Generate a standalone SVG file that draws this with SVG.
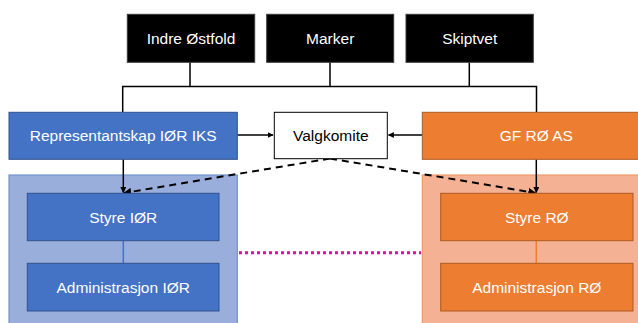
<svg xmlns="http://www.w3.org/2000/svg" width="638" height="323" viewBox="0 0 638 323">
<style>
text{font-family:"Liberation Sans",Arial,sans-serif;font-size:15.5px;text-anchor:middle;dominant-baseline:central}
.w{fill:#ffffff}
.k{fill:#000000}
.top{fill:#000000;stroke:#3a3a3a;stroke-width:1}
.blue{fill:#4472C4;stroke:#2F528F;stroke-width:1}
.orange{fill:#ED7D31;stroke:#AE5A21;stroke-width:1}
.ln{fill:none;stroke:#000000;stroke-width:1.5}
.dash{fill:none;stroke:#000000;stroke-width:2;stroke-dasharray:7,5}
</style>
<defs>
<marker id="ah" viewBox="0 0 10 10" refX="9" refY="5" markerWidth="6" markerHeight="6" orient="auto" markerUnits="userSpaceOnUse">
<path d="M0,0 L10,5 L0,10 z" fill="#000000"/>
</marker>
<marker id="ah2" viewBox="0 0 10 10" refX="9" refY="5" markerWidth="8" markerHeight="8" orient="auto" markerUnits="userSpaceOnUse">
<path d="M0,0 L10,5 L0,10 z" fill="#000000"/>
</marker>
</defs>
<rect width="638" height="323" fill="#ffffff"/>
<g id="container-ior"><rect x="9" y="175" width="228.3" height="150" fill="#9AAEDC" stroke="#7293CB" stroke-width="1.2"/></g>
<g id="container-ro"><rect x="422.3" y="175" width="220" height="150" fill="#F5B194" stroke="#F09A6A" stroke-width="1.2"/></g>
<g id="connectors">
<path class="ln" d="M190,62.3 V86.5 M330,62.3 V86.5 M469.3,62.3 V86.5 M122.7,112.3 V86.5 H536.5 V112.3"/>
<path class="ln" d="M237.3,135 H273" marker-end="url(#ah)"/>
<path class="ln" d="M422.3,135 H388.5" marker-end="url(#ah)"/>
<path class="ln" d="M123.3,159.3 V192.5" marker-end="url(#ah)"/>
<path class="ln" d="M536.3,159.3 V192.5" marker-end="url(#ah)"/>
<path class="dash" d="M330,158.5 L124,193" marker-end="url(#ah2)"/>
<path class="dash" d="M330,158.5 L535.5,193" marker-end="url(#ah2)"/>
<line x1="123.3" y1="240.7" x2="123.3" y2="263.3" stroke="#4472C4" stroke-width="1.5"/>
<line x1="536.3" y1="240.7" x2="536.3" y2="263.3" stroke="#ED7D31" stroke-width="1.5"/>
<line x1="239" y1="252.7" x2="421" y2="252.7" stroke="#DD10A0" stroke-width="3" stroke-dasharray="3,3"/>
</g>
<g id="indre-ostfold"><rect class="top" x="127.3" y="14.3" width="127.4" height="48"/><text class="w" x="191" y="38.3">Indre Østfold</text></g>
<g id="marker"><rect class="top" x="266.7" y="14.3" width="127" height="48"/><text class="w" x="330.2" y="38.3">Marker</text></g>
<g id="skiptvet"><rect class="top" x="406" y="14.3" width="127.3" height="48"/><text class="w" x="469.7" y="38.3">Skiptvet</text></g>
<g id="representantskap"><rect class="blue" x="9" y="112.3" width="228.3" height="47"/><text class="w" x="123.2" y="135.8">Representantskap IØR IKS</text></g>
<g id="valgkomite"><rect x="274.3" y="112.3" width="113" height="46.4" fill="#ffffff" stroke="#000000" stroke-width="1"/><text class="k" x="330.8" y="135.5">Valgkomite</text></g>
<g id="gf-ro-as"><rect class="orange" x="422.3" y="112.3" width="220" height="47"/><text class="w" x="536.3" y="135.8">GF RØ AS</text></g>
<g id="styre-ior"><rect class="blue" x="27.3" y="193.3" width="191.7" height="47.4"/><text class="w" x="123.2" y="217">Styre IØR</text></g>
<g id="admin-ior"><rect class="blue" x="27.3" y="263.3" width="191.7" height="47.7"/><text class="w" x="123.2" y="287.2">Administrasjon IØR</text></g>
<g id="styre-ro"><rect class="orange" x="440.7" y="193.3" width="192.3" height="47.4"/><text class="w" x="536.8" y="217">Styre RØ</text></g>
<g id="admin-ro"><rect class="orange" x="440.7" y="263.3" width="192.3" height="47.7"/><text class="w" x="536.8" y="287.2">Administrasjon RØ</text></g>
</svg>
